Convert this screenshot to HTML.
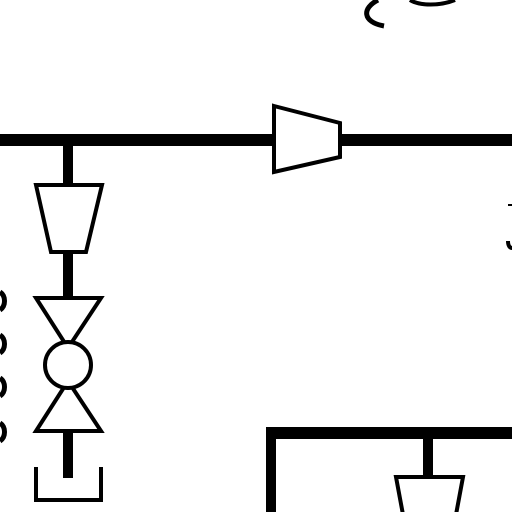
<!DOCTYPE html>
<html><head><meta charset="utf-8"><style>html,body{margin:0;padding:0;background:#fff}svg{display:block}</style></head>
<body>
<svg width="512" height="512" viewBox="0 0 512 512">
<g fill="none" stroke="#000" stroke-width="4">
<path d="M378 0 C362 8 362 22 384 26" stroke-width="5"/>
<path d="M410 0 C420 6 440 6 455 0" stroke-width="4"/>
<rect x="0" y="134" width="512" height="12" fill="#000" stroke="none"/>
<rect x="63" y="146" width="10" height="40" fill="#000" stroke="none"/>
<polygon points="36,185 102,185 86,252 51,252" fill="#fff"/>
<rect x="63" y="254" width="10" height="44" fill="#000" stroke="none"/>
<polygon points="274,106 340,123 340,157 274,172" fill="#fff"/>
<polygon points="36,298 101,298 68,348" fill="#fff"/>
<polygon points="36,431 101,431 68,381" fill="#fff"/>
<circle cx="68" cy="365" r="23" fill="#fff"/>
<rect x="63" y="432" width="10" height="46" fill="#000" stroke="none"/>
<path d="M36 467 V500 H101 V467"/>
<path stroke-width="5" d="M0 292 C6 296 6 306 0 310 M0 335 C6 339 6 349 0 353 M0 378 C6 382 6 392 0 396 M0 423 C6 427 6 437 0 441"/>
<path d="M508 205 H512" stroke-width="2"/>
<path d="M508 241 C508 246 510 248 512 248" stroke-width="4"/>
<rect x="266" y="427" width="246" height="12" fill="#000" stroke="none"/>
<rect x="266" y="427" width="10" height="85" fill="#000" stroke="none"/>
<rect x="423" y="439" width="10" height="38" fill="#000" stroke="none"/>
<polygon points="396,477 463,477 455,520 404,520" fill="#fff"/>
</g>
</svg>
</body></html>
